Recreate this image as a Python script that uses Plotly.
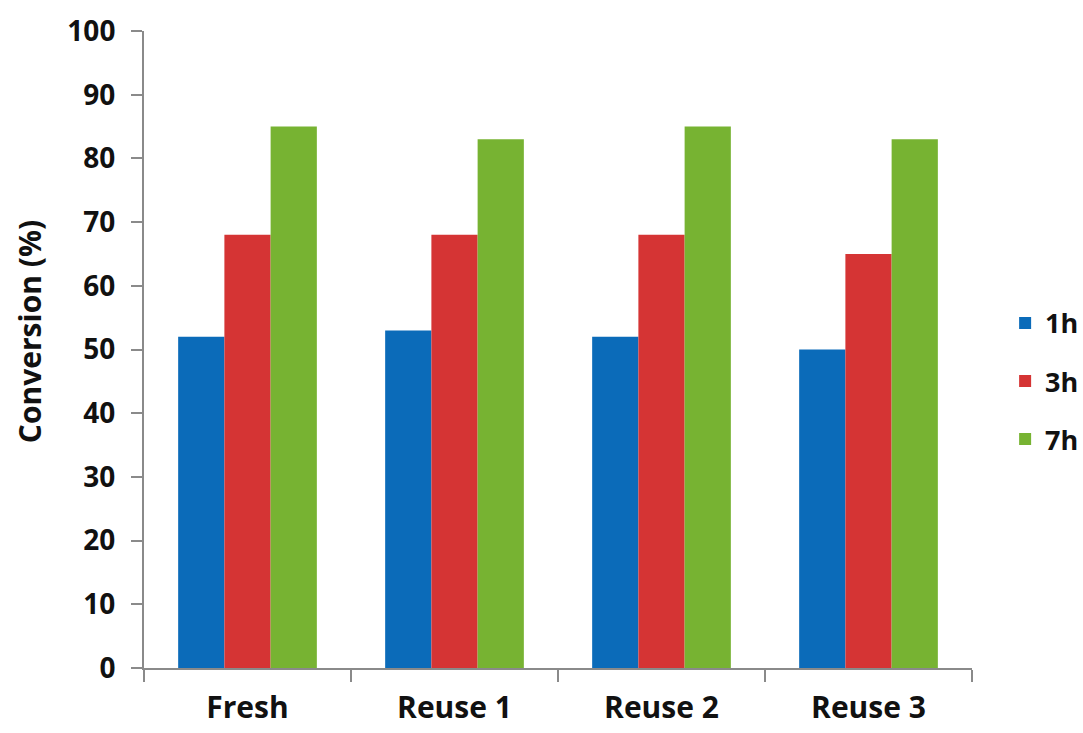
import plotly.graph_objects as go

categories = ["Fresh", "Reuse 1", "Reuse 2", "Reuse 3"]
series_names = ["1h", "3h", "7h"]
vals_1h = [52, 53, 52, 50]
vals_3h = [68, 68, 68, 65]
vals_7h = [85, 83, 85, 83]
colors = ["#0b6bb9", "#d53434", "#77b332"]
y_ticks = [0, 10, 20, 30, 40, 50, 60, 70, 80, 90, 100]
y_title = "Conversion (%)"

FONT = "Open Sans"
fig = go.Figure()
for name, vals, col in zip(series_names, [vals_1h, vals_3h, vals_7h], colors):
    fig.add_trace(go.Bar(x=categories, y=vals, name=name, legendgroup=name,
                         marker=dict(color=col, line=dict(width=0))))

fig.update_layout(
    width=1083, height=733,
    margin=dict(l=144, r=111, t=31, b=65, autoexpand=False),
    plot_bgcolor="white", paper_bgcolor="white",
    barmode="group", bargap=0.33, bargroupgap=0,
    font=dict(family=FONT, color="#111111"),
    legend=dict(x=1.04, y=0.45, xanchor="left", yanchor="middle",
                font=dict(family=FONT, size=27, color="#111111", weight="bold"),
                tracegroupgap=20, itemwidth=30),
    xaxis=dict(showline=True, linecolor="#8a8a8a", linewidth=2,
               ticks="outside", tickson="boundaries", ticklen=12, tickcolor="#8a8a8a", tickwidth=2,
               tickfont=dict(family=FONT, size=30, weight="bold", color="#111111"),
               ticklabelstandoff=12, showgrid=False),
    yaxis=dict(range=[0, 100], tickvals=y_ticks, showline=True, linecolor="#8a8a8a", linewidth=2,
               ticks="outside", ticklen=11, tickcolor="#8a8a8a", tickwidth=2,
               tickfont=dict(family=FONT, size=28, weight="bold", color="#111111"),
               ticklabelstandoff=10, showgrid=False, zeroline=False),
    annotations=[dict(text=y_title, xref="paper", yref="paper", x=-0.138, y=0.5, yshift=18,
                      xanchor="center", yanchor="middle", textangle=-90, showarrow=False,
                      font=dict(family=FONT, size=30, weight="bold", color="#111111"))],
)
fig.write_html("out.html")
